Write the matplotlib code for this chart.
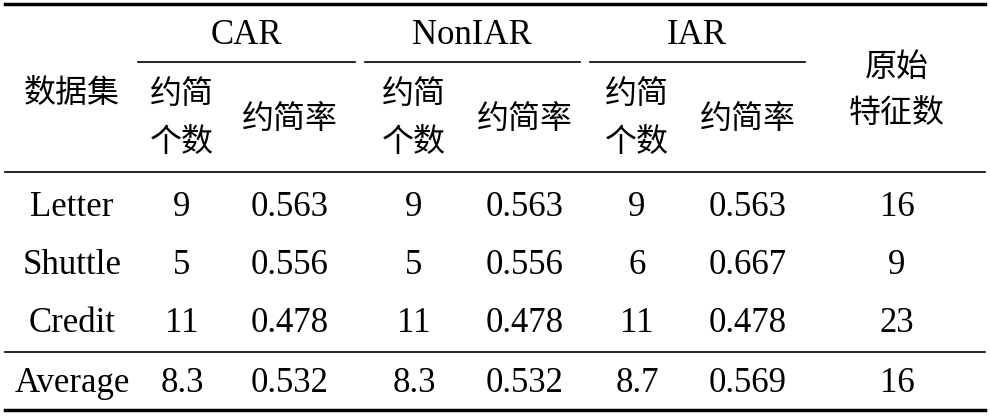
import matplotlib.pyplot as plt

# table data
datasets = ["Letter", "Shuttle", "Credit", "Average"]
car_num = ["9", "5", "11", "8.3"]
car_rate = ["0.563", "0.556", "0.478", "0.532"]
nonlar_num = ["9", "5", "11", "8.3"]
nonlar_rate = ["0.563", "0.556", "0.478", "0.532"]
iar_num = ["9", "6", "11", "8.7"]
iar_rate = ["0.563", "0.667", "0.478", "0.569"]
orig_feat = ["16", "9", "23", "16"]
groups = ["CAR", "NonIAR", "IAR"]

plt.rcParams['font.family'] = ['Liberation Serif', 'Noto Sans CJK SC']

fig = plt.figure(figsize=(9.9, 4.17), dpi=100)
ax = fig.add_axes([0, 0, 1, 1])
ax.set_xlim(0, 990)
ax.set_ylim(417, 0)
ax.axis("off")

fs = 25
cjk = 23

# rules
ax.plot([5, 985], [4, 4], color="black", lw=2.5)
for x0, x1 in [(138, 355), (365, 580), (590, 805)]:
    ax.plot([x0, x1], [62, 62], color="black", lw=1.2)
ax.plot([5, 985], [172, 172], color="black", lw=1.2)
ax.plot([5, 985], [352, 352], color="black", lw=1.2)
ax.plot([5, 985], [410, 410], color="black", lw=2.5)

# header
kw = dict(ha="center", va="center")
ax.text(72, 94, "数据集", fontsize=cjk, **kw)
for x, g in zip([246, 472, 697], groups):
    ax.text(x, 35, g, fontsize=fs, **kw)
for xn, xr in [(182, 290), (414, 525), (637, 748)]:
    ax.text(xn, 95, "约简", fontsize=cjk, **kw)
    ax.text(xn, 143, "个数", fontsize=cjk, **kw)
    ax.text(xr, 120, "约简率", fontsize=cjk, **kw)
ax.text(897, 68, "原始", fontsize=cjk, **kw)
ax.text(897, 115, "特征数", fontsize=cjk, **kw)

# body
cols = [datasets, car_num, car_rate, nonlar_num, nonlar_rate, iar_num, iar_rate, orig_feat]
xs = [72, 182, 290, 414, 525, 637, 748, 897]
ys = [207, 265, 323, 384]
for col, x in zip(cols, xs):
    for v, y in zip(col, ys):
        ax.text(x, y, v, fontsize=fs, **kw)

fig.savefig("out.png", dpi=100)
